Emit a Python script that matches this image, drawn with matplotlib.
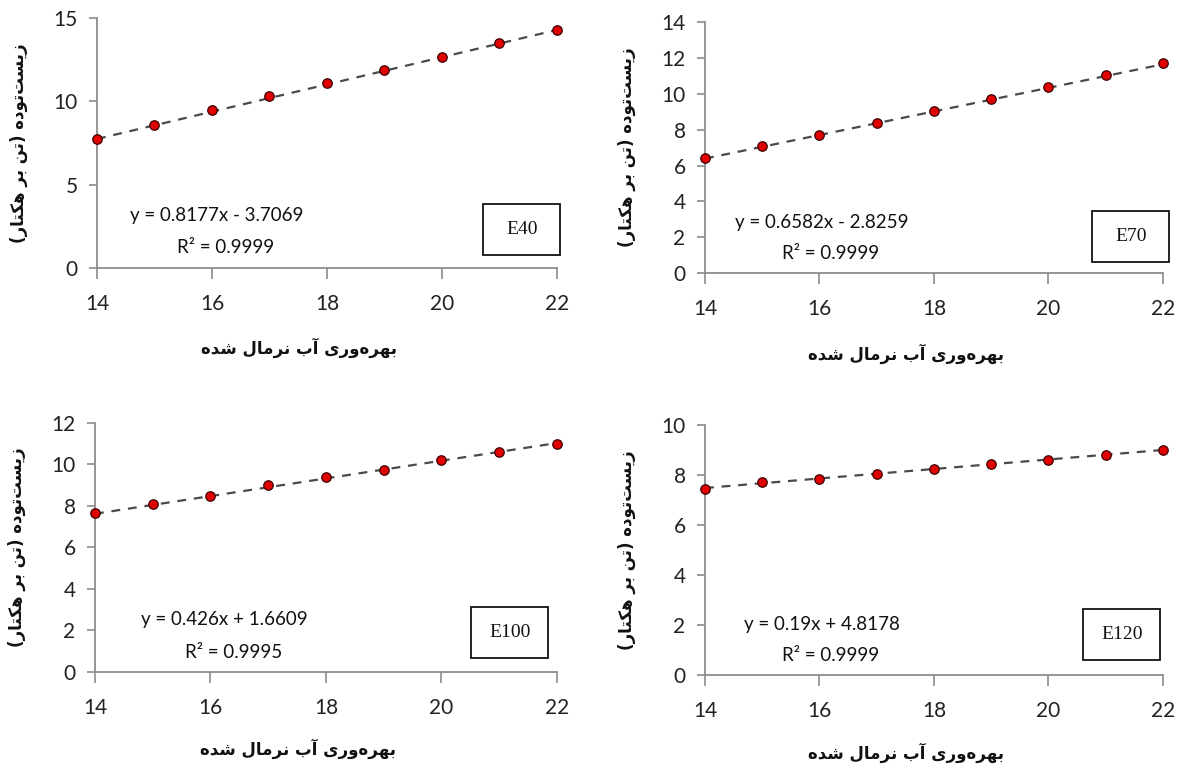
import matplotlib
matplotlib.use("Agg")
import matplotlib.pyplot as plt
from matplotlib.patches import Rectangle

# داده‌ها
x_vals = [14, 15, 16, 17, 18, 19, 20, 21, 22]

e40 = [7.75, 8.6, 9.45, 10.3, 11.1, 11.85, 12.65, 13.5, 14.25]
e70 = [6.45, 7.1, 7.7, 8.35, 9.05, 9.7, 10.4, 11.05, 11.7]
e100 = [7.65, 8.1, 8.5, 9.0, 9.4, 9.75, 10.2, 10.6, 11.0]
e120 = [7.45, 7.7, 7.85, 8.05, 8.25, 8.45, 8.6, 8.8, 9.0]

names = ["E40", "E70", "E100", "E120"]
slopes = [0.8177, 0.6582, 0.426, 0.19]
intercepts = [-3.7069, -2.8259, 1.6609, 4.8178]
eq_labels = ["y = 0.8177x - 3.7069", "y = 0.6582x - 2.8259",
             "y = 0.426x + 1.6609", "y = 0.19x + 4.8178"]
r2_labels = ["R² = 0.9999", "R² = 0.9999", "R² = 0.9995", "R² = 0.9999"]
y_max = [15, 14, 12, 10]
y_step = [5, 2, 2, 2]

x_label = "بهره‌وری آب نرمال شده"
y_label = "زیست‌توده (تن بر هکتار)"


def shape(text):
    """حروف فارسی را به شکل‌های اتصالی تبدیل و ترتیب را برای نمایش برعکس می‌کند"""
    forms = {
        'ا': ('\uFE8D', '\uFE8E', None, None),
        'آ': ('\uFE81', '\uFE82', None, None),
        'ب': ('\uFE8F', '\uFE90', '\uFE91', '\uFE92'),
        'ت': ('\uFE95', '\uFE96', '\uFE97', '\uFE98'),
        'د': ('\uFEA9', '\uFEAA', None, None),
        'ر': ('\uFEAD', '\uFEAE', None, None),
        'ز': ('\uFEAF', '\uFEB0', None, None),
        'س': ('\uFEB1', '\uFEB2', '\uFEB3', '\uFEB4'),
        'ش': ('\uFEB5', '\uFEB6', '\uFEB7', '\uFEB8'),
        'ل': ('\uFEDD', '\uFEDE', '\uFEDF', '\uFEE0'),
        'م': ('\uFEE1', '\uFEE2', '\uFEE3', '\uFEE4'),
        'ن': ('\uFEE5', '\uFEE6', '\uFEE7', '\uFEE8'),
        'ه': ('\uFEE9', '\uFEEA', '\uFEEB', '\uFEEC'),
        'و': ('\uFEED', '\uFEEE', None, None),
        'ی': ('\uFBFC', '\uFBFD', '\uFBFE', '\uFBFF'),
        'ک': ('\uFB8E', '\uFB8F', '\uFB90', '\uFB91'),
    }
    out = []
    for i, ch in enumerate(text):
        if ch not in forms:
            out.append(ch)
            continue
        prev = text[i - 1] if i > 0 else ''
        nxt = text[i + 1] if i + 1 < len(text) else ''
        join_prev = prev in forms and forms[prev][2] is not None
        join_next = forms[ch][2] is not None and nxt in forms
        iso, fin, ini, med = forms[ch]
        if join_prev and join_next:
            out.append(med)
        elif join_prev:
            out.append(fin)
        elif join_next:
            out.append(ini)
        else:
            out.append(iso)
    s = ''.join(out).replace('\u200c', '')
    mirror = {'(': ')', ')': '('}
    return ''.join(mirror.get(c, c) for c in reversed(s))


plt.rcParams['font.family'] = ['Lato', 'DejaVu Sans']

fig = plt.figure(figsize=(11.84, 7.67), dpi=100)

# موقعیت محورها (کسر شکل)
positions = [
    [0.0819, 0.6506, 0.3885, 0.326],
    [0.5954, 0.644, 0.3868, 0.327],
    [0.0802, 0.1239, 0.390, 0.3246],
    [0.5954, 0.120, 0.3868, 0.326],
]
eq_pos = [(0.26, 0.208, 0.08), (0.255, 0.203, 0.076),
          (0.28, 0.209, 0.08), (0.255, 0.20, 0.076)]
box_pos = [(0.924, 0.152), (0.93, 0.147), (0.898, 0.16), (0.91, 0.16)]
xlabel_y = [-0.28, -0.28, -0.27, -0.27]

series = [e40, e70, e100, e120]
axis_color = '#8c8c8c'

for i in range(4):
    ax = fig.add_axes(positions[i])
    ys = series[i]
    trend = [slopes[i] * xv + intercepts[i] for xv in x_vals]
    ax.plot(x_vals, trend, linestyle=(0, (4, 3.5)), color='#4a4a4a',
            linewidth=1.6, zorder=2)
    ax.plot(x_vals, ys, linestyle='none', marker='o', markersize=6.8,
            markerfacecolor='#e00000', markeredgecolor='#3a0000',
            markeredgewidth=0.9, zorder=3, clip_on=False)

    ax.set_xlim(14, 22)
    ax.set_ylim(0, y_max[i])
    ax.set_xticks(range(14, 23, 2))
    ax.set_yticks(range(0, y_max[i] + 1, y_step[i]))

    for side in ['top', 'right']:
        ax.spines[side].set_visible(False)
    for side in ['left', 'bottom']:
        ax.spines[side].set_color(axis_color)
        ax.spines[side].set_linewidth(1.3)

    ax.tick_params(axis='x', direction='out', length=8, width=1.2,
                   color=axis_color, pad=11, labelsize=15, labelcolor='#222222')
    ax.tick_params(axis='y', direction='out', length=6, width=1.2,
                   color=axis_color, pad=8, labelsize=15, labelcolor='#222222')

    ax.set_xlabel(shape(x_label), family=['DejaVu Sans'], fontweight='bold',
                  fontsize=12, color='#111111')
    ax.xaxis.set_label_coords(0.44, xlabel_y[i])
    ax.set_ylabel(shape(y_label), family=['DejaVu Sans'], fontweight='bold',
                  fontsize=12, color='#111111')
    ax.yaxis.set_label_coords(-0.15, 0.5)

    ex, ey1, ey2 = eq_pos[i]
    ax.text(ex, ey1, eq_labels[i], transform=ax.transAxes, ha='center',
            va='center', fontsize=13.5, color='#111111')
    ax.text(ex + 0.02, ey2, r2_labels[i], transform=ax.transAxes, ha='center',
            va='center', fontsize=13.5, color='#111111')

    bx, by = box_pos[i]
    bw, bh = 77 / (positions[i][2] * 1184), 51 / (positions[i][3] * 767)
    ax.add_patch(Rectangle((bx - bw / 2, by - bh / 2), bw, bh,
                           transform=ax.transAxes, fill=False,
                           edgecolor='#111111', linewidth=1.3, clip_on=False))
    ax.text(bx, by, names[i], transform=ax.transAxes, ha='center', va='center',
            family=['Liberation Serif'], fontsize=14, color='#111111')

fig.savefig("out.png", dpi=100)
